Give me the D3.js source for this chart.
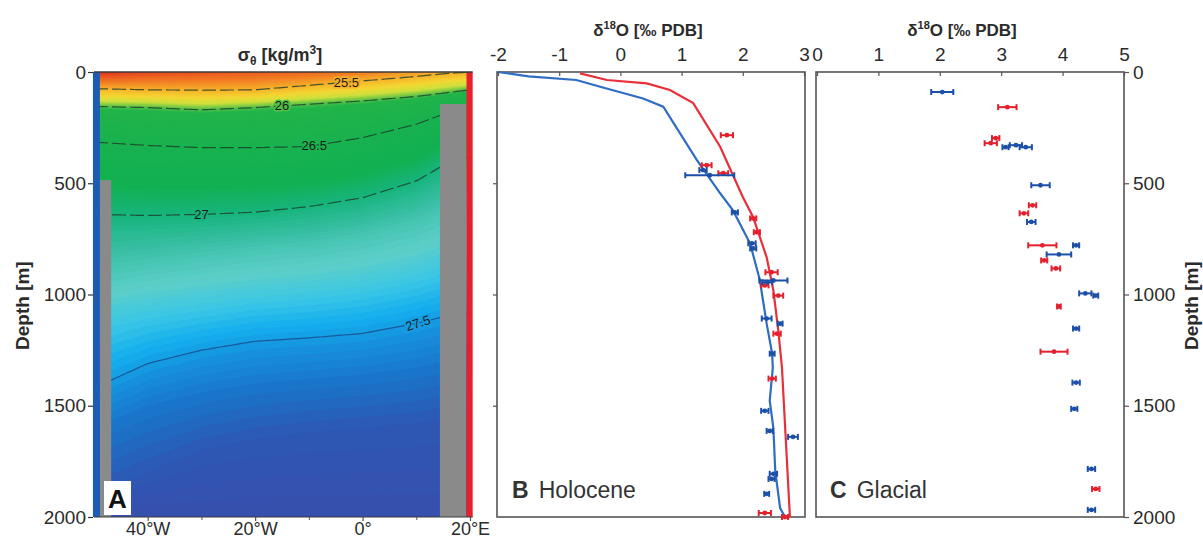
<!DOCTYPE html>
<html><head><meta charset="utf-8">
<script src="https://cdn.jsdelivr.net/npm/d3@7"></script>
<style>
body{margin:0;background:#fff;}
svg{display:block;font-family:"Liberation Sans",Arial,Helvetica,sans-serif;}
</style></head><body>
<svg id="chart" width="1203" height="538"></svg>
<script>
// ---- Panel A: potential density section ----
// Longitudes (°E) at which isopycnal depths are tabulated
const sectionLons = [-50, -40, -30, -20, -10, 0, 10, 15, 20];
// Surface potential density along the section
const surfaceSigma = [24.88, 25.0, 25.05, 25.1, 25.15, 25.25, 25.4, 25.46, 25.5];
// Isopycnal levels (kg/m3) and their depths (m) at each section longitude
const isoLevels = [25.5, 26.0, 26.5, 27.0, 27.2, 27.35, 27.5, 27.6, 27.7];
const isoDepths = [
  [75, 80, 82, 80, 60, 40, 20, 8, 0],
  [155, 160, 170, 160, 145, 130, 110, 95, 80],
  [315, 330, 340, 340, 335, 295, 235, 190, 150],
  [640, 645, 640, 630, 605, 565, 490, 420, 380],
  [900, 860, 830, 800, 780, 740, 680, 630, 600],
  [1100, 1060, 1030, 1000, 980, 950, 900, 860, 830],
  [1420, 1310, 1250, 1210, 1195, 1175, 1130, 1100, 1080],
  [1600, 1500, 1440, 1400, 1380, 1360, 1330, 1300, 1280],
  [1900, 1800, 1700, 1650, 1620, 1600, 1580, 1560, 1540]
];
const bottomSigma = 27.78;
// Labelled contours and the longitude where each label sits
const labelledLevels = [25.5, 26.0, 26.5, 27.0, 27.5];
const labelLons = [-3, -15, -9, -30, 10.3];
const labelTexts = ["25.5", "26", "26.5", "27", "27.5"];
const dashedLevels = [25.5, 26.0, 26.5, 27.0];
// Topography blocks: west/east longitude bounds and top depth
const landLon0 = [-48.9, 14.4];
const landLon1 = [-46.8, 19.3];
const landTop = [486, 144];
// Longitude axis
const lonTicks = [-40, -20, 0, 20];
const lonTickLabels = ["40°W", "20°W", "0°", "20°E"];
const lonMinorTicks = [-30, -10, 10];
const depthTicks = [0, 500, 1000, 1500, 2000];

// ---- Panel B: Holocene δ18O (depth m, ‰) ----
const holoBlueProfile = [[0,-2.0],[20,-1.5],[36,-0.72],[66,-0.33],[119,0.37],[156,0.70],[396,1.25],[545,1.63],[622,1.84],[771,2.12],[937,2.28],[1027,2.33],[1131,2.39],[1266,2.48],[1330,2.49],[1477,2.44],[1600,2.5],[1793,2.53],[1960,2.61],[2000,2.69]];
const holoRedProfile = [[6,-0.66],[36,-0.22],[51,0.43],[81,0.81],[140,1.19],[336,1.63],[562,2.0],[653,2.17],[833,2.39],[982,2.5],[1162,2.58],[1329,2.64],[2000,2.77]];
// Core-top measurements: depth, δ18O, half-range
const holoBlueObs = [[441,1.35,0.06],[464,1.46,0.40],[631,1.87,0.05],[770,2.15,0.06],[793,2.17,0.05],[937,2.50,0.23],[945,2.40,0.08],[1108,2.39,0.08],[1131,2.61,0.04],[1266,2.48,0.04],[1523,2.36,0.06],[1613,2.44,0.05],[1640,2.82,0.08],[1806,2.50,0.06],[1829,2.47,0.05],[1896,2.39,0.04]];
const holoRedObs = [[284,1.74,0.10],[419,1.41,0.08],[455,1.68,0.08],[658,2.17,0.05],[720,2.23,0.05],[900,2.47,0.10],[959,2.36,0.06],[1005,2.58,0.08],[1176,2.56,0.06],[1378,2.48,0.06],[1982,2.36,0.10],[2000,2.69,0.05]];
const holoTicks = [-2, -1, 0, 1, 2, 3];

// ---- Panel C: Glacial δ18O ----
const glacBlueObs = [[90,2.04,0.18],[329,3.24,0.10],[338,3.40,0.10],[338,3.07,0.05],[509,3.64,0.15],[674,3.49,0.07],[779,4.22,0.05],[820,3.94,0.20],[995,4.37,0.10],[1005,4.54,0.04],[1153,4.22,0.05],[1396,4.22,0.06],[1514,4.19,0.05],[1784,4.47,0.06],[1968,4.47,0.06]];
const glacRedObs = [[158,3.10,0.15],[297,2.91,0.06],[320,2.83,0.10],[599,3.51,0.06],[635,3.37,0.07],[779,3.67,0.23],[847,3.70,0.05],[883,3.89,0.07],[1054,3.94,0.03],[1257,3.86,0.22],[1874,4.54,0.06]];
const glacTicks = [0, 1, 2, 3, 4, 5];

// ---- styling ----
const BLUE_LINE = "#2f6cc4", RED_LINE = "#e8303a";
const BLUE_PT = "#1b4fa8", RED_PT = "#e3202c";
const AXIS = "#555", TEXT = "#2b2b2b";
const TICK_FONT = 19;

const svg = d3.select("#chart");

// shared depth scale
const yD = d3.scaleLinear().domain([0, 2000]).range([72, 517]);
const xA = d3.scaleLinear().domain([-50, 20]).range([94, 470]);
const xB = d3.scaleLinear().domain([-2, 3]).range([498, 804]);
const xC = d3.scaleLinear().domain([0, 5]).range([817, 1124]);

// density colour ramp
const sigmaStops = [24.9, 25.1, 25.3, 25.5, 25.7, 25.85, 25.95, 26.05, 26.8, 27.0, 27.15, 27.28, 27.38, 27.46, 27.53, 27.62, 27.7, 27.8];
const sigmaColors = ["#e0301f","#ec5a20","#f28424","#f6b02a","#f4d632","#cfe03c","#7ccb44","#22b44a","#12b052","#17b47c","#3cc0a8","#5ccfc8","#3ac6e6","#14aeee","#1690dc","#1b72c8","#2d58b4","#3a4cac"];
const sigmaColor = d3.scaleLinear().domain(sigmaStops).range(sigmaColors).clamp(true);

function sigmaAt(lon, depth) {
  let i = d3.bisectRight(sectionLons, lon) - 1;
  i = Math.max(0, Math.min(sectionLons.length - 2, i));
  const t = (lon - sectionLons[i]) / (sectionLons[i + 1] - sectionLons[i]);
  const lerp = a => a[i] + (a[i + 1] - a[i]) * t;
  const ds = [0, ...isoDepths.map(lerp), 2000];
  const ss = [lerp(surfaceSigma), ...isoLevels, bottomSigma];
  for (let k = 0; k < ds.length - 1; k++) {
    if (ds[k + 1] > ds[k] && depth >= ds[k] && depth <= ds[k + 1]) {
      return ss[k] + (ss[k + 1] - ss[k]) * (depth - ds[k]) / (ds[k + 1] - ds[k]);
    }
  }
  return bottomSigma;
}

// ---------- Panel A ----------
const gA = svg.append("g");
svg.append("defs").append("clipPath").attr("id", "clipA")
  .append("rect").attr("x", xA(-50)).attr("y", yD(0))
  .attr("width", xA(20) - xA(-50)).attr("height", yD(2000) - yD(0));

const nx = 141, ny = 201, dLon = 0.5, dDep = 10;
const grid = new Array(nx * ny);
for (let j = 0; j < ny; j++)
  for (let i = 0; i < nx; i++)
    grid[j * nx + i] = sigmaAt(-50 + i * dLon, j * dDep);

const thresholds = d3.range(24.84, 27.8, 0.02);
const contours = d3.contours().size([nx, ny]).thresholds(thresholds)(grid);
const gridProj = d3.geoTransform({
  point(x, y) {
    const lon = Math.max(-50, Math.min(20, -50 + (x - 0.5) * dLon));
    const dep = Math.max(0, Math.min(2000, (y - 0.5) * dDep));
    this.stream.point(xA(lon), yD(dep));
  }
});
const field = gA.append("g").attr("clip-path", "url(#clipA)");
field.append("rect").attr("x", xA(-50)).attr("y", yD(0))
  .attr("width", xA(20) - xA(-50)).attr("height", yD(2000) - yD(0))
  .attr("fill", sigmaColor(24.85));
field.selectAll("path.band").data(contours).join("path")
  .attr("class", "band")
  .attr("d", d3.geoPath(gridProj))
  .attr("fill", d => sigmaColor(d.value + 0.01))
  .attr("stroke", d => sigmaColor(d.value + 0.01))
  .attr("stroke-width", 0.4);

// isopycnal lines
const fineLons = d3.range(-50, 20.01, 0.5);
const isoLine = d3.line().curve(d3.curveBasis);
function levelDepth(levelIdx, lon) {
  const a = isoDepths[levelIdx];
  let i = d3.bisectRight(sectionLons, lon) - 1;
  i = Math.max(0, Math.min(sectionLons.length - 2, i));
  const t = (lon - sectionLons[i]) / (sectionLons[i + 1] - sectionLons[i]);
  return a[i] + (a[i + 1] - a[i]) * t;
}
labelledLevels.forEach(lev => {
  const li = isoLevels.indexOf(lev);
  const pts = fineLons.map(lon => [xA(lon), yD(levelDepth(li, lon))]);
  field.append("path").attr("d", isoLine(pts))
    .attr("fill", "none")
    .attr("stroke", lev === 27.5 ? "#1a3f7a" : "#1d3b2a")
    .attr("stroke-opacity", lev === 27.5 ? 0.7 : 0.8)
    .attr("stroke-width", 1.2)
    .attr("stroke-dasharray", dashedLevels.includes(lev) ? "14,4" : null);
});

// topography
landLon0.forEach((l0, k) => {
  gA.append("rect").attr("x", xA(l0)).attr("y", yD(landTop[k]))
    .attr("width", xA(landLon1[k]) - xA(l0)).attr("height", yD(2000) - yD(landTop[k]))
    .attr("fill", "#8a8a8a");
});
// boundary strips
gA.append("rect").attr("x", xA(-50.2)).attr("y", yD(0)).attr("width", xA(-48.9) - xA(-50.2))
  .attr("height", yD(2000) - yD(0)).attr("fill", "#1d5cb4");
gA.append("rect").attr("x", xA(19.35)).attr("y", yD(0)).attr("width", xA(20.5) - xA(19.35))
  .attr("height", yD(2000) - yD(0)).attr("fill", "#e8202c");

// contour labels
labelledLevels.forEach((lev, k) => {
  const li = isoLevels.indexOf(lev);
  const lon = labelLons[k];
  const rot = lev === 27.5 ? -18 : 0;
  gA.append("text")
    .attr("transform", `translate(${xA(lon)},${yD(levelDepth(li, lon))}) rotate(${rot})`)
    .attr("text-anchor", "middle").attr("dy", "0.35em")
    .attr("font-size", 13).attr("fill", "#1a1a1a")
    .attr("stroke", sigmaColor(lev)).attr("stroke-width", 3).attr("paint-order", "stroke")
    .text(labelTexts[k]);
});

// frame lines
gA.append("line").attr("x1", xA(-50)).attr("x2", xA(20.5)).attr("y1", yD(0)).attr("y2", yD(0))
  .attr("stroke", "#3a3a3a").attr("stroke-width", 1.5);
gA.append("line").attr("x1", xA(-50)).attr("x2", xA(20.5)).attr("y1", yD(2000)).attr("y2", yD(2000))
  .attr("stroke", "#3a3a3a").attr("stroke-width", 1.2);

// axes A
const axA = svg.append("g").attr("transform", `translate(${xA(-50) - 1},0)`)
  .call(d3.axisLeft(yD).tickValues(depthTicks).tickSize(5).tickPadding(2).tickFormat(d => String(d)));
const axAx = svg.append("g").attr("transform", `translate(0,${yD(2000)})`)
  .call(d3.axisBottom(xA).tickValues(lonTicks).tickSize(4).tickPadding(1)
    .tickFormat((d, i) => lonTickLabels[i]));
svg.append("g").attr("transform", `translate(0,${yD(2000)})`)
  .call(d3.axisBottom(xA).tickValues(lonMinorTicks).tickSize(3).tickFormat(""))
  .call(g => g.select(".domain").remove())
  .call(g => g.selectAll(".tick line").attr("stroke", AXIS));

// "A" tag
svg.append("rect").attr("x", 104).attr("y", 481).attr("width", 27).attr("height", 34).attr("fill", "#fff");
svg.append("text").attr("x", 117.5).attr("y", 508).attr("text-anchor", "middle")
  .attr("font-size", 26).attr("font-weight", "bold").attr("fill", "#111").text("A");

// Panel A title
const tA = svg.append("text").attr("x", 280).attr("y", 61).attr("text-anchor", "middle")
  .attr("font-size", 18).attr("font-weight", "bold").attr("fill", TEXT);
tA.append("tspan").text("σ");
tA.append("tspan").attr("font-size", 12).attr("dy", 4).text("θ");
tA.append("tspan").attr("dy", -4).text(" [kg/m");
tA.append("tspan").attr("font-size", 12).attr("dy", -7).text("3");
tA.append("tspan").attr("dy", 7).text("]");

// left depth label
svg.append("text").attr("transform", `translate(29,${yD(1050)}) rotate(-90)`)
  .attr("text-anchor", "middle").attr("font-size", 19).attr("font-weight", "bold")
  .attr("fill", TEXT).text("Depth [m]");

// ---------- helpers for profile panels ----------
function frame(x0, x1) {
  svg.append("rect").attr("x", x0).attr("y", yD(0)).attr("width", x1 - x0)
    .attr("height", yD(2000) - yD(0)).attr("fill", "none").attr("stroke", AXIS).attr("stroke-width", 1.6);
}
function errorBars(g, data, x, color) {
  const sel = g.append("g").attr("stroke", color).attr("fill", color).attr("stroke-width", 2);
  data.forEach(([dep, v, e]) => {
    const y = yD(dep);
    sel.append("line").attr("x1", x(v - e)).attr("x2", x(v + e)).attr("y1", y).attr("y2", y);
    sel.append("line").attr("x1", x(v - e)).attr("x2", x(v - e)).attr("y1", y - 3).attr("y2", y + 3);
    sel.append("line").attr("x1", x(v + e)).attr("x2", x(v + e)).attr("y1", y - 3).attr("y2", y + 3);
    sel.append("circle").attr("cx", x(v)).attr("cy", y).attr("r", 2.4).attr("stroke", "none");
  });
}
function styleAxis(g) {
  g.select(".domain").remove();
  g.selectAll(".tick line").attr("stroke", AXIS).attr("stroke-width", 1.2);
  g.selectAll(".tick text").attr("font-size", TICK_FONT).attr("fill", TEXT)
    .attr("font-family", "'Liberation Sans',Arial,sans-serif");
}
[axA, axAx].forEach(styleAxis);
axA.selectAll(".tick line").attr("stroke", "#333");
axAx.selectAll(".tick text").attr("font-size", 18);

function d18OTitle(cx) {
  const t = svg.append("text").attr("x", cx).attr("y", 36).attr("text-anchor", "middle")
    .attr("font-size", 17).attr("font-weight", "bold").attr("fill", TEXT);
  t.append("tspan").text("δ");
  t.append("tspan").attr("font-size", 11).attr("dy", -7).text("18");
  t.append("tspan").attr("dy", 7).text("O [‰ PDB]");
}

// ---------- Panel B ----------
frame(xB(-2) - 1, xB(3) + 1);
const gB = svg.append("g");
const lineB = d3.line().x(d => xB(d[1])).y(d => yD(d[0]));
gB.append("path").attr("d", lineB(holoBlueProfile)).attr("fill", "none").attr("stroke", BLUE_LINE).attr("stroke-width", 2.2);
gB.append("path").attr("d", lineB(holoRedProfile)).attr("fill", "none").attr("stroke", RED_LINE).attr("stroke-width", 2.2);
errorBars(gB, holoRedObs, xB, RED_PT);
errorBars(gB, holoBlueObs, xB, BLUE_PT);
const axBt = svg.append("g").attr("transform", `translate(0,${yD(0)})`)
  .call(d3.axisTop(xB).tickValues(holoTicks).tickSize(-4).tickPadding(11).tickFormat(d => String(d)));
styleAxis(axBt);
const axBl = svg.append("g").attr("transform", `translate(${xB(-2) - 1},0)`)
  .call(d3.axisLeft(yD).tickValues([500, 1000, 1500]).tickSize(4).tickFormat(""));
styleAxis(axBl);
d18OTitle(648);
const lb = svg.append("text").attr("x", 512).attr("y", 498).attr("font-size", 23).attr("fill", "#333");
lb.append("tspan").attr("font-weight", "bold").text("B");
lb.append("tspan").attr("dx", 10).text("Holocene");

// ---------- Panel C ----------
frame(xC(0) - 1, xC(5));
const gC = svg.append("g");
errorBars(gC, glacRedObs, xC, RED_PT);
errorBars(gC, glacBlueObs, xC, BLUE_PT);
const axCt = svg.append("g").attr("transform", `translate(0,${yD(0)})`)
  .call(d3.axisTop(xC).tickValues(glacTicks).tickSize(-4).tickPadding(11).tickFormat(d => String(d)));
styleAxis(axCt);
const axCr = svg.append("g").attr("transform", `translate(${xC(5)},0)`)
  .call(d3.axisRight(yD).tickValues(depthTicks).tickSize(5).tickPadding(4).tickFormat(d => String(d)));
styleAxis(axCr);
d18OTitle(962);
const lc = svg.append("text").attr("x", 830).attr("y", 498).attr("font-size", 23).attr("fill", "#333");
lc.append("tspan").attr("font-weight", "bold").text("C");
lc.append("tspan").attr("dx", 10).text("Glacial");

svg.append("text").attr("transform", `translate(1198,${yD(1050)}) rotate(-90)`)
  .attr("text-anchor", "middle").attr("font-size", 19).attr("font-weight", "bold")
  .attr("fill", TEXT).text("Depth [m]");
</script>
</body></html>
